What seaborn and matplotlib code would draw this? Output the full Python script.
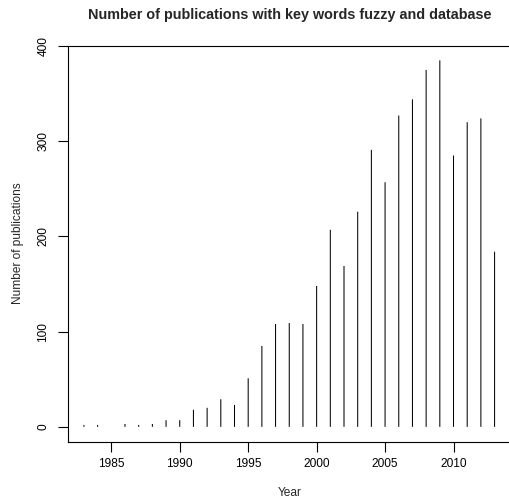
import matplotlib
matplotlib.use("Agg")
import matplotlib.pyplot as plt
import seaborn as sns
import pandas as pd

# publications per year
years = [1983, 1984, 1986, 1987, 1988, 1989, 1990, 1991, 1992, 1993,
         1994, 1995, 1996, 1997, 1998, 1999, 2000, 2001, 2002, 2003,
         2004, 2005, 2006, 2007, 2008, 2009, 2010, 2011, 2012, 2013]
counts = [2, 2, 3, 2, 3, 7, 7, 18, 20, 29,
          23, 51, 85, 108, 109, 108, 148, 207, 169, 226,
          291, 257, 327, 344, 375, 385, 285, 320, 324, 184]
xticks = [1985, 1990, 1995, 2000, 2005, 2010]
yticks = [0, 100, 200, 300, 400]

df = pd.DataFrame({"Year": years, "Publications": counts})

sns.set_theme(style="white")
plt.rcParams['font.family'] = ['Liberation Sans', 'DejaVu Sans']

fig = plt.figure(figsize=(5.09, 5.01), dpi=100)
# plot region runs a touch past the right edge, like the original
ax = fig.add_axes([67.5/509, (501-441.5)/501, (511-67.5)/509, (441.5-45.7)/501])

sns.barplot(data=df, x="Year", y="Publications", native_scale=True,
            width=0.075, color="black", errorbar=None, linewidth=0,
            saturation=1, ax=ax)
# no pixel snapping, otherwise some of the thin bars vanish
for p in ax.patches:
    p.set_snap(False)

ax.set_xlim(1981.8, 2014.2)
ax.set_ylim(-15.4, 400.4)
ax.set_xticks(xticks)
ax.set_xticklabels([str(t) for t in xticks])
ax.set_yticks(yticks)
ax.set_yticklabels([str(t) for t in yticks], rotation=90, va="center")

ax.tick_params(axis="both", direction="out", length=7, width=0.8,
               colors="black", labelsize=8.6, bottom=True, left=True)
ax.tick_params(axis="x", pad=5)
ax.tick_params(axis="y", pad=6)

for side in ["left", "bottom", "top"]:
    ax.spines[side].set_color("black")
    ax.spines[side].set_linewidth(0.8)
ax.spines["right"].set_visible(False)

ax.set_xlabel("Year", fontsize=8.6, labelpad=12)
ax.set_ylabel("Number of publications", fontsize=8.6, labelpad=10)
# title centred over the plot region
fig.text((67.5 + 511) / 2 / 509, 1 - 15/501,
         "Number of publications with key words fuzzy and database",
         ha="center", va="center", fontsize=10.4, fontweight="bold")

fig.savefig("out.png", dpi=100)
